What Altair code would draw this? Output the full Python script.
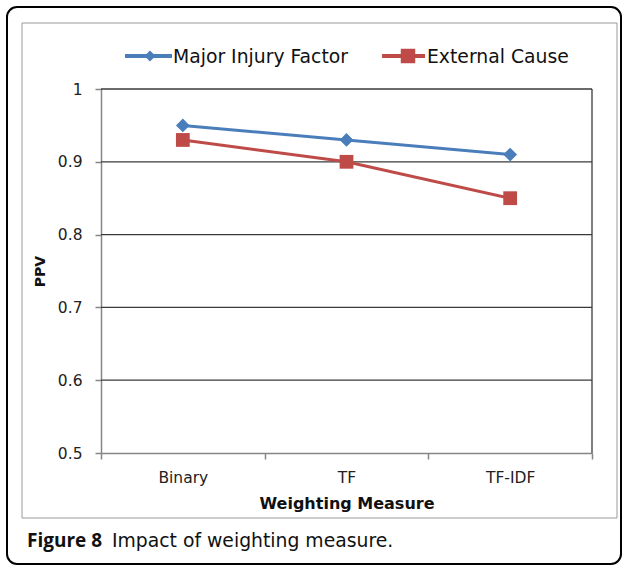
import altair as alt
import pandas as pd

categories = ["Binary", "TF", "TF-IDF"]
major_injury = [0.95, 0.93, 0.91]
external_cause = [0.93, 0.90, 0.85]
series_names = ["Major Injury Factor", "External Cause"]
y_ticks = [0.5, 0.6, 0.7, 0.8, 0.9, 1.0]
grid_values = [0.6, 0.7, 0.8, 0.9, 1.0]

line_colors = ["#4A7EBB", "#BE4B48"]
W, H = 491, 364

df = pd.DataFrame({
    "Weighting": categories * 2,
    "PPV": major_injury + external_cause,
    "Series": [series_names[0]] * 3 + [series_names[1]] * 3,
})
grid_df = pd.DataFrame({"PPV": grid_values})
one = pd.DataFrame({"a": [0]})

yscale = alt.Scale(domain=[0.5, 1.0], nice=False, zero=False)
xscale = alt.Scale(type="band", domain=categories, paddingInner=0, paddingOuter=0)

x_enc = alt.X(
    "Weighting:N", scale=xscale, bandPosition=0.5,
    axis=alt.Axis(
        title="Weighting Measure", tickBand="extent", labelAngle=0,
        domainColor="#868686", domainWidth=1.5, tickColor="#868686",
        tickSize=6, tickWidth=1.5, labelFont="DejaVu Sans", labelFontSize=15.5,
        labelColor="#222222", labelPadding=11, titleFont="DejaVu Sans",
        titleFontSize=16, titleFontWeight="bold", titleColor="#111111",
        titleY=50.5, titleBaseline="middle", grid=False,
    ),
)
y_axis = alt.Axis(
    values=y_ticks, format=".1~f", title="PPV", grid=False,
    domainColor="#868686", domainWidth=1.5, tickColor="#868686",
    tickSize=6, tickWidth=1.5, labelFont="DejaVu Sans", labelFontSize=15.5,
    labelColor="#222222", labelPadding=13, titleFont="DejaVu Sans",
    titleFontSize=14, titleFontWeight="bold", titleColor="#111111",
    titleX=-61, titleY=H / 2, titleAngle=270, titleBaseline="middle",
)
y_enc = alt.Y("PPV:Q", scale=yscale, axis=y_axis)

color_scale = alt.Scale(domain=series_names, range=line_colors)

outer = alt.Chart(one).mark_rect(
    fillOpacity=0, stroke="black", strokeWidth=2, cornerRadius=10
).encode(x=alt.value(-94), x2=alt.value(520), y=alt.value(-82), y2=alt.value(475))

inner = alt.Chart(one).mark_rect(
    fillOpacity=0, stroke="#9a9a9a", strokeWidth=1
).encode(x=alt.value(-79), x2=alt.value(516), y=alt.value(-66), y2=alt.value(429))

grid = alt.Chart(grid_df).mark_rule(color="#3a3a3a", strokeWidth=1.3).encode(y=y_enc)
right_border = alt.Chart(one).mark_rule(color="#3a3a3a", strokeWidth=1.3).encode(
    x=alt.value(W), y=alt.value(0), y2=alt.value(H)
)

lines = alt.Chart(df).mark_line(strokeWidth=3).encode(
    x=x_enc, y=y_enc,
    color=alt.Color("Series:N", scale=color_scale, legend=None),
)
points = alt.Chart(df).mark_point(filled=True, size=190, opacity=1).encode(
    x=x_enc, y=y_enc,
    color=alt.Color("Series:N", scale=color_scale, legend=None),
    shape=alt.Shape("Series:N", scale=alt.Scale(domain=series_names, range=["diamond", "square"]), legend=None),
)

LY = -33
LB = -26.5
leg = []
leg_items = [
    (series_names[0], line_colors[0], "diamond", 120, 24, 71, 49, 72),
    (series_names[1], line_colors[1], "square", 210, 281, 324, 307, 326),
]
for name, col, shp, sz, x1, x2, xm, xt in leg_items:
    leg.append(alt.Chart(one).mark_rule(color=col, strokeWidth=4).encode(
        x=alt.value(x1), x2=alt.value(x2), y=alt.value(LY)))
    leg.append(alt.Chart(one).mark_point(filled=True, size=sz, opacity=1, color=col, shape=shp).encode(
        x=alt.value(xm), y=alt.value(LY)))
    leg.append(alt.Chart(one).mark_text(
        align="left", baseline="alphabetic", font="DejaVu Sans", fontSize=18.8, color="#111111"
    ).encode(x=alt.value(xt), y=alt.value(LB), text=alt.value(name)))

CB = 458.3
cap1 = alt.Chart(one).mark_text(
    align="left", baseline="alphabetic", font="Open Sans", fontSize=19, fontWeight="bold", color="#111111"
).encode(x=alt.value(-74), y=alt.value(CB), text=alt.value("Figure 8"))
cap2 = alt.Chart(one).mark_text(
    align="left", baseline="alphabetic", font="DejaVu Sans", fontSize=18.8, color="#111111"
).encode(x=alt.value(11), y=alt.value(CB), text=alt.value("Impact of weighting measure."))

chart = alt.layer(
    outer, inner, grid, right_border, lines, points, *leg, cap1, cap2
).properties(
    width=W, height=H,
    autosize=alt.AutoSizeParams(type="none"),
    padding={"left": 101, "top": 89, "right": 32, "bottom": 113},
    background="white",
).configure_view(stroke=None)

chart.save("out.html", embed_options={"renderer": "svg", "actions": False})
